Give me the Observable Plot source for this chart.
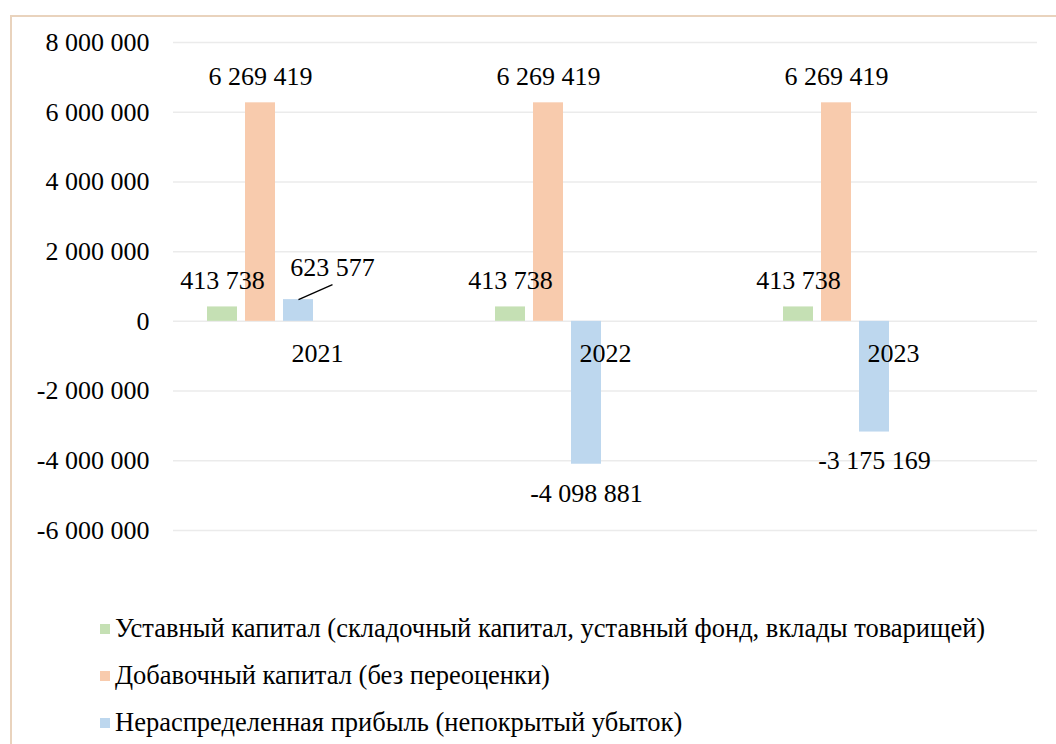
<!DOCTYPE html>
<html>
<head>
<meta charset="utf-8">
<script src="https://cdn.jsdelivr.net/npm/d3@7"></script>
<script src="https://cdn.jsdelivr.net/npm/@observablehq/plot@0.6"></script>
<style>
  html, body { margin: 0; padding: 0; background: #fff; }
  body { width: 1056px; height: 744px; position: relative; overflow: hidden; font-family: "Times New Roman", "Liberation Serif", "Liberation Sans", sans-serif; }
  #frame { position: absolute; left: 10px; top: 15px; width: 1100px; height: 800px; border-left: 2px solid #e9d3bd; border-top: 2px solid #e9d3bd; }
  #chart { position: absolute; left: 0; top: 0; }
  #legend { position: absolute; left: 100px; top: 605px; font-size: 26.5px; color: #000; }
  .item { height: 47px; display: flex; align-items: center; white-space: nowrap; }
  .sw { width: 10px; height: 10px; margin-right: 5px; flex: none; }
  #chart svg, #chart svg text { font-family: "Times New Roman", "Liberation Serif", "Liberation Sans", sans-serif !important; }
</style>
</head>
<body>
<div id="frame"></div>
<div id="chart"></div>
<div id="legend"></div>
<script>
const years = ["2021", "2022", "2023"];
const seriesNames = [
  "Уставный капитал (складочный капитал, уставный фонд, вклады товарищей)",
  "Добавочный капитал (без переоценки)",
  "Нераспределенная прибыль (непокрытый убыток)"
];
const ustavnyValues = [413738, 413738, 413738];
const dobavochnyValues = [6269419, 6269419, 6269419];
const neraspredValues = [623577, -4098881, -3175169];
const seriesColors = ["#c5e0b4", "#f8cbad", "#bdd7ee"];
const yTicks = [-6000000, -4000000, -2000000, 0, 2000000, 4000000, 6000000, 8000000];

const seriesValues = [ustavnyValues, dobavochnyValues, neraspredValues];
const data = [];
years.forEach((year, yi) => {
  seriesNames.forEach((s, si) => {
    data.push({year, series: s, value: seriesValues[si][yi]});
  });
});

const fmt = d3.formatLocale({decimal: ",", thousands: " ", grouping: [3], currency: ["", ""], minus: "-"}).format(",");

const isLeader = d => d.series === seriesNames[2] && d.value > 0;
const aboveData = data.filter(d => d.value > 0 && !isLeader(d));
const belowData = data.filter(d => d.value < 0);
const leaderData = data.filter(isLeader);

const marginLeft = 172;

const plot = Plot.plot({
  width: 1056,
  height: 600,
  marginLeft,
  marginRight: 19,
  marginTop: 42,
  marginBottom: 70,
  style: {fontSize: "26px", color: "#000", background: "transparent", overflow: "visible"},
  fx: {domain: years, padding: 0, axis: null, label: null},
  x: {domain: seriesNames, range: [marginLeft + 28.8, marginLeft + 144.3], paddingInner: 0.22, paddingOuter: 0.11, axis: null, label: null},
  y: {domain: [-6000000, 8000000], label: null, axis: null},
  color: {domain: seriesNames, range: seriesColors},
  marks: [
    Plot.gridY(yTicks, {stroke: "#ebebeb", strokeOpacity: 1, strokeWidth: 1.5}),
    Plot.axisY(yTicks, {tickFormat: fmt, tickSize: 0, tickPadding: 24, fontSize: 26, label: null}),
    Plot.barY(data, {fx: "year", x: "series", y: "value", fill: "series"}),
    Plot.text(years, {fx: d => d, y: () => 0, text: d => d, dy: 32, lineAnchor: "middle", fill: "#000"}),
    Plot.text(aboveData, {fx: "year", x: "series", y: "value", text: d => fmt(d.value), dy: -26, lineAnchor: "middle", fill: "#000"}),
    Plot.text(belowData, {fx: "year", x: "series", y: "value", text: d => fmt(d.value), dy: 29, lineAnchor: "middle", fill: "#000"}),
    Plot.text(leaderData, {fx: "year", x: "series", y: "value", text: d => fmt(d.value), dx: 34, dy: -32, lineAnchor: "middle", fill: "#000"}),
    Plot.link(leaderData, {
      fx: "year", x1: "series", x2: "series", y1: "value", y2: "value",
      stroke: "#000", strokeWidth: 1.3,
      render(index, scales, values, dimensions, context, next) {
        const g = next(index, scales, values, dimensions, context);
        if (!g) return g;
        const paths = g.querySelectorAll("path");
        Array.from(index).forEach((i, k) => {
          const x = values.x1[i], y = values.y1[i];
          if (paths[k]) paths[k].setAttribute("d", `M${x},${y}L${x + 34},${y - 15}`);
        });
        return g;
      }
    })
  ]
});
document.getElementById("chart").appendChild(plot);

const legend = document.getElementById("legend");
seriesNames.forEach((s, i) => {
  const item = document.createElement("div");
  item.className = "item";
  const sw = document.createElement("span");
  sw.className = "sw";
  sw.style.background = seriesColors[i];
  const label = document.createElement("span");
  label.textContent = s;
  item.appendChild(sw);
  item.appendChild(label);
  legend.appendChild(item);
});
</script>
</body>
</html>
